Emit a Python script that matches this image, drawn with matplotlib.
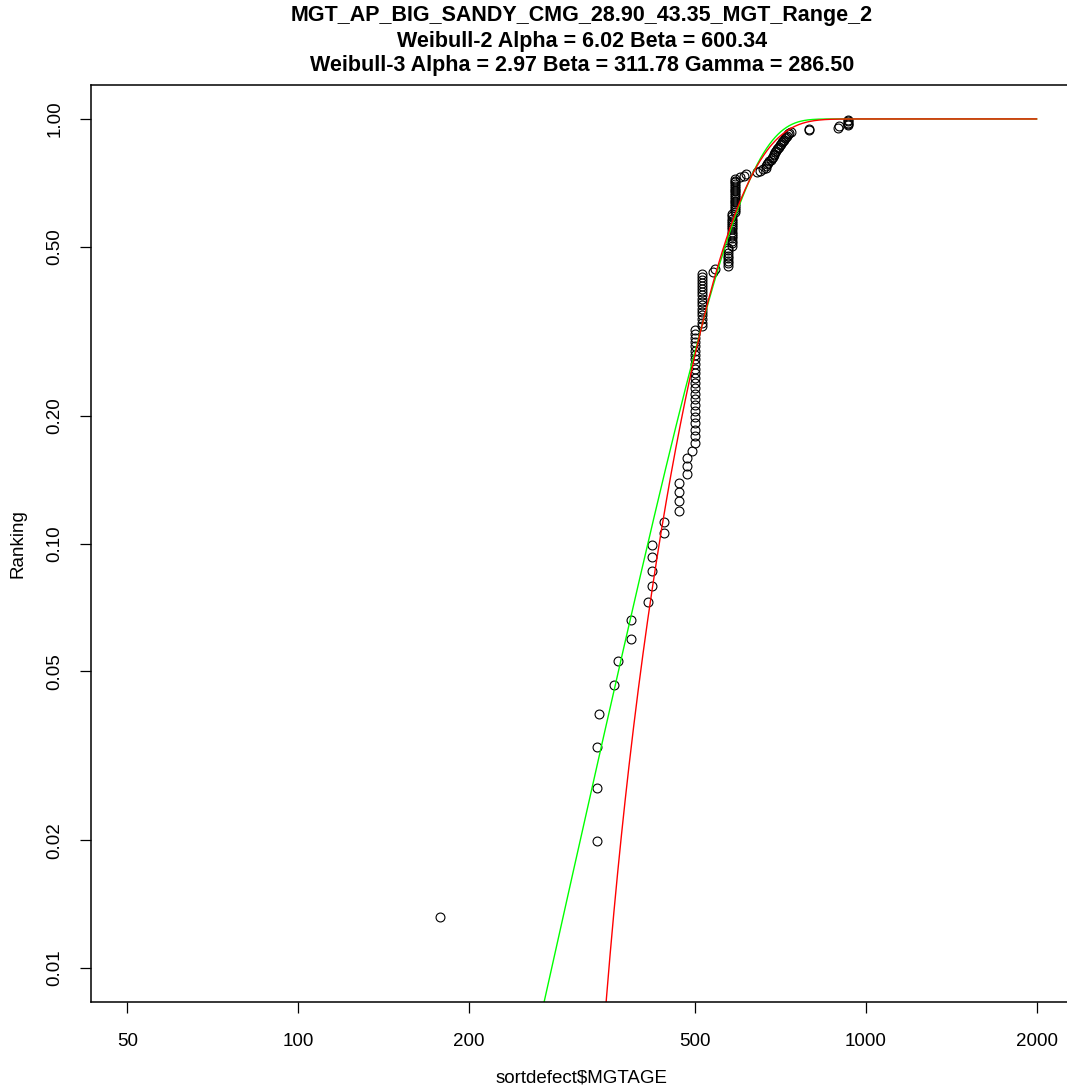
import numpy as np
import matplotlib
matplotlib.use('Agg')
import matplotlib.pyplot as plt
from matplotlib.ticker import FixedLocator, FixedFormatter, NullLocator

# --- data ---
plot_name = 'MGT_AP_BIG_SANDY_CMG_28.90_43.35_MGT_Range_2'
w2_alpha, w2_beta = 6.02, 600.34
w3_alpha, w3_beta, w3_gamma = 2.97, 311.78, 286.50

# sorted ages (one entry per failure) and their ranking
ages = [177.5, 336, 336, 336, 339, 360, 366, 385, 385, 413,
        420, 420, 420, 420, 441, 441, 468, 468, 468, 468,
        485, 485, 485, 494,
        501, 501, 501, 501, 501, 501, 501, 501, 501, 501, 501, 501,
        501, 501, 501, 501, 501, 501, 501, 501, 501, 501, 501,
        515, 515, 515, 515, 515, 515, 515, 515, 515, 515, 515, 515,
        515, 515, 515, 515, 515,
        538, 542,
        571, 571, 571, 571, 571, 571, 571, 571,
        582, 582, 582, 582, 582, 582, 582, 582, 582, 582, 582, 582,
        582, 582, 582, 588, 588, 588, 588, 588, 588, 588, 588, 588,
        588, 588, 588, 588, 588, 588, 588, 588, 588, 588,
        601, 610, 616, 643, 650, 660,
        667, 667, 670, 672, 676, 680, 683, 686, 688, 690, 693, 695, 698,
        700, 703, 706, 709, 712, 715, 718, 721, 724, 727, 730, 733, 737,
        793, 795, 895, 897, 931, 931, 931, 931, 931]
ranking = [0.0132, 0.0199, 0.0265, 0.0331, 0.0397, 0.0464, 0.0530, 0.0596, 0.0662, 0.0728,
           0.0795, 0.0861, 0.0927, 0.0993, 0.1060, 0.1126, 0.1192, 0.1258, 0.1325, 0.1391,
           0.1457, 0.1523, 0.1589, 0.1656,
           0.1722, 0.1788, 0.1854, 0.1921, 0.1987, 0.2053, 0.2119, 0.2185, 0.2252, 0.2318,
           0.2384, 0.2450, 0.2517, 0.2583, 0.2649, 0.2715, 0.2781, 0.2848, 0.2914, 0.2980,
           0.3046, 0.3113, 0.3179,
           0.3245, 0.3311, 0.3377, 0.3444, 0.3510, 0.3576, 0.3642, 0.3709, 0.3775, 0.3841,
           0.3907, 0.3974, 0.4040, 0.4106, 0.4172, 0.4238, 0.4305,
           0.4371, 0.4437,
           0.4503, 0.4570, 0.4636, 0.4702, 0.4768, 0.4834, 0.4901, 0.4967,
           0.5033, 0.5099, 0.5166, 0.5232, 0.5298, 0.5364, 0.5430, 0.5497, 0.5563, 0.5629,
           0.5695, 0.5762, 0.5828, 0.5894, 0.5960, 0.6026, 0.6093, 0.6159, 0.6225, 0.6291,
           0.6358, 0.6424, 0.6490, 0.6556, 0.6623, 0.6689, 0.6755, 0.6821, 0.6887, 0.6954,
           0.7020, 0.7086, 0.7152, 0.7219,
           0.7285, 0.7351, 0.7417, 0.7483, 0.7550, 0.7616,
           0.7682, 0.7748, 0.7815, 0.7881, 0.7947, 0.8013, 0.8079, 0.8146, 0.8212, 0.8278,
           0.8344, 0.8411, 0.8477, 0.8543, 0.8609, 0.8675, 0.8742, 0.8808, 0.8874, 0.8940,
           0.9007, 0.9073, 0.9139, 0.9205, 0.9272, 0.9338,
           0.9404, 0.9470, 0.9536, 0.9603, 0.9669, 0.9735, 0.9801, 0.9868, 0.9934]

x_ticks = [50, 100, 200, 500, 1000, 2000]
y_ticks = [0.01, 0.02, 0.05, 0.10, 0.20, 0.50, 1.00]
y_tick_labels = ['0.01', '0.02', '0.05', '0.10', '0.20', '0.50', '1.00']

plt.rcParams['font.family'] = ['Liberation Sans', 'DejaVu Sans']

W, H = 1067, 1091
fig = plt.figure(figsize=(W / 100, H / 100), dpi=100)
# plot region in pixels: left 91, right 1073 (cut off by the image edge), top 85, bottom 1002
ax = fig.add_axes([91 / W, 1 - 1002 / H, (1073 - 91) / W, (1002 - 85) / H])

ax.set_xscale('log')
ax.set_yscale('log')

# fitted curves
xc = np.geomspace(1, 2000, 2000)
f2 = 1 - np.exp(-(xc / w2_beta) ** w2_alpha)
xc3 = xc[xc > w3_gamma]
f3 = 1 - np.exp(-((xc3 - w3_gamma) / w3_beta) ** w3_alpha)

ax.plot(ages, ranking, linestyle='none', marker='o', markersize=6.4,
        markerfacecolor='none', markeredgecolor='black', markeredgewidth=0.8)
ax.plot(xc, f2, color='#00ff00', linewidth=1.0)
ax.plot(xc3, f3, color='#ff0000', linewidth=1.0)

# R style 4% padding around xlim = (50, 2000), ylim = (0.01, 1)
ax.set_xlim(50 / 40 ** 0.04, 2000 * 40 ** 0.04)
ax.set_ylim(0.01 / 100 ** 0.04, 1.0 * 100 ** 0.04)

ax.xaxis.set_major_locator(FixedLocator(x_ticks))
ax.xaxis.set_major_formatter(FixedFormatter([str(t) for t in x_ticks]))
ax.xaxis.set_minor_locator(NullLocator())
ax.yaxis.set_major_locator(FixedLocator(y_ticks))
ax.yaxis.set_major_formatter(FixedFormatter(y_tick_labels))
ax.yaxis.set_minor_locator(NullLocator())

ax.tick_params(axis='both', direction='out', length=8, width=0.9, labelsize=13.5, colors='black')
ax.tick_params(axis='x', pad=14)
ax.tick_params(axis='y', pad=12)
for lbl in ax.get_yticklabels():
    lbl.set_rotation(90)
    lbl.set_va('center')

for s in ax.spines.values():
    s.set_linewidth(1.1)

ax.set_xlabel(r'sortdefect\$MGTAGE', fontsize=13.5)
ax.xaxis.set_label_coords(0.5, -(1078 - 1002) / (1002 - 85))
ax.xaxis.label.set_va('center')
ax.set_ylabel('Ranking', fontsize=13.5)
ax.yaxis.set_label_coords(-(91 - 18) / (1073 - 91), 0.5)
ax.yaxis.label.set_va('center')

title_lines = [plot_name,
               'Weibull-2 Alpha = %.2f Beta = %.2f' % (w2_alpha, w2_beta),
               'Weibull-3 Alpha = %.2f Beta = %.2f Gamma = %.2f' % (w3_alpha, w3_beta, w3_gamma)]
cx = (91 + 1073) / 2 / W
for k, line in enumerate(title_lines):
    fig.text(cx, 1 - (16 + 25 * k) / H, line, ha='center', va='center',
             fontsize=15.5, fontweight='bold')

fig.savefig('out.png', dpi=100)
